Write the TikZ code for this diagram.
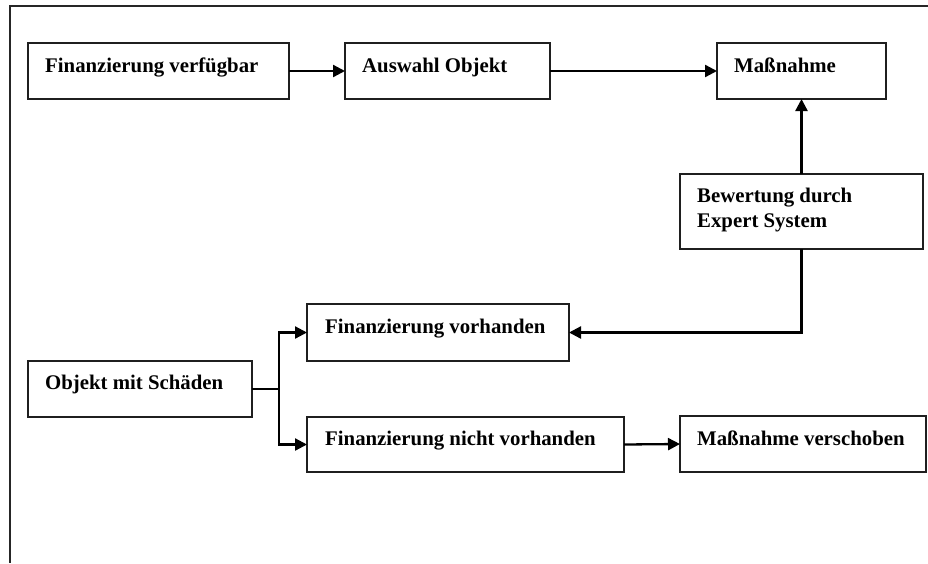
\documentclass[tikz,border=0pt]{standalone}
\usepackage{fontspec}
\setmainfont{Liberation Serif}
\usetikzlibrary{arrows.meta}
\begin{document}
\begin{tikzpicture}[x=1pt,y=-1pt,
  boxnode/.style={draw=black!88,line width=2pt,inner sep=0pt,outer sep=0pt,rectangle},
  lbl/.style={anchor=base west,inner sep=0pt,align=left,font=\fontsize{20.8}{25}\selectfont\bfseries},
  conn/.style={line width=2.3pt,draw=black},
  arr/.style={conn,-{Triangle[length=12pt,width=12pt]}},
  frame/.style={line width=1.6pt,draw=black!85}]
\useasboundingbox (0,0) rectangle (928,563);
% frame
\coordinate (ftr) at (928,6);
\coordinate (ftl) at (10,6);
\coordinate (fbl) at (10,563);
\draw[frame] (ftr) -- (ftl) -- (fbl);
% boxes
\node[boxnode,minimum width=261pt,minimum height=56pt] (fv)  at (158.5,71) {};
\node[boxnode,minimum width=205pt,minimum height=56pt] (ao)  at (447.5,71) {};
\node[boxnode,minimum width=169pt,minimum height=56pt] (m)   at (801.5,71) {};
\node[boxnode,minimum width=243pt,minimum height=75pt] (be)  at (801.5,211.5) {};
\node[boxnode,minimum width=262pt,minimum height=57pt] (fvh) at (438,332.5) {};
\node[boxnode,minimum width=224pt,minimum height=56pt] (oms) at (140,389) {};
\node[boxnode,minimum width=317pt,minimum height=55pt] (fnv) at (465.5,444.5) {};
\node[boxnode,minimum width=246pt,minimum height=56pt] (mv)  at (803,444) {};
% labels
\node[lbl] (tfv)  at ([shift={(17,29)}]fv.north west) {Finanzierung verfügbar};
\node[lbl] (tao)  at ([shift={(17,29)}]ao.north west) {Auswahl Objekt};
\node[lbl] (tm)   at ([shift={(17,29)}]m.north west) {Maßnahme};
\node[lbl] (tbe)  at ([shift={(17,53)}]be.north west) {Bewertung durch\\Expert System};
\node[lbl] (tfvh) at ([shift={(18,29)}]fvh.north west) {Finanzierung vorhanden};
\node[lbl] (toms) at ([shift={(17,28)}]oms.north west) {Objekt mit Schäden};
\node[lbl] (tfnv) at ([shift={(18,28)}]fnv.north west) {Finanzierung nicht vorhanden};
\node[lbl] (tmv)  at ([shift={(17,29)}]mv.north west) {Maßnahme verschoben};
% connectors
\draw[arr] (fv.east) -- (ao.west);
\draw[arr] (ao.east) -- (m.west);
\draw[arr] (be.north) -- (m.south);
\draw[arr] (be.south) |- (fvh.east);
\coordinate (jn) at (279,389);
\draw[conn] (oms.east) -- (jn);
\draw[arr] (jn) |- (fvh.west);
\draw[arr] (jn) |- (fnv.west);
\draw[arr] (fnv.east) -- (mv.west);
\end{tikzpicture}
\end{document}
